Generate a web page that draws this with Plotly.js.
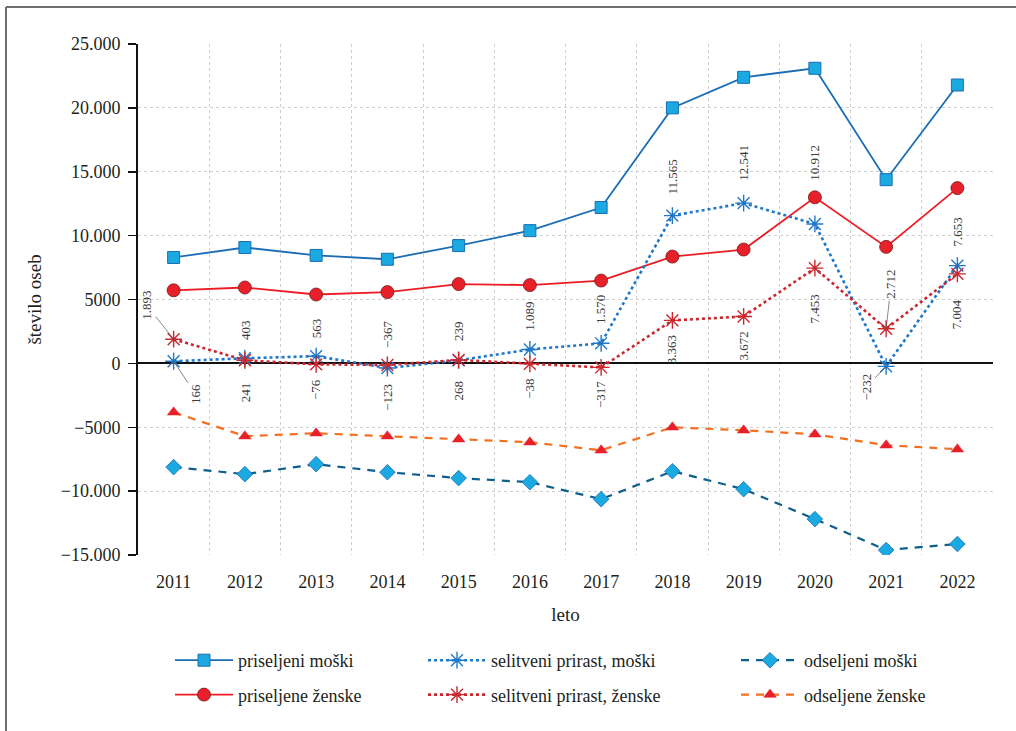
<!DOCTYPE html>
<html>
<head>
<meta charset="utf-8">
<script src="https://cdn.plot.ly/plotly-3.0.1.min.js"></script>
<style>
  html, body { margin: 0; padding: 0; background: #fff; }
  #chart { width: 1016px; height: 731px; }
</style>
</head>
<body>
<div id="chart"></div>
<script>
// ---- data ----
const years = [2011, 2012, 2013, 2014, 2015, 2016, 2017, 2018, 2019, 2020, 2021, 2022];
const priseljeniMoski   = [8290, 9070, 8450, 8150, 9220, 10390, 12200, 20000, 22390, 23100, 14380, 21790];
const priseljeneZenske  = [5720, 5940, 5390, 5580, 6210, 6130, 6480, 8360, 8910, 13000, 9120, 13720];
const selitveniMoski    = [166, 403, 563, -367, 239, 1089, 1570, 11565, 12541, 10912, -232, 7653];
const selitveniZenske   = [1893, 241, -76, -123, 268, -38, -317, 3363, 3672, 7453, 2712, 7004];
const odseljeniMoski    = [-8120, -8670, -7890, -8520, -8980, -9300, -10630, -8440, -9850, -12190, -14610, -14140];
const odseljeneZenske   = [-3830, -5700, -5470, -5700, -5940, -6170, -6800, -5000, -5240, -5550, -6410, -6720];
const yTickVals  = [-15000, -10000, -5000, 0, 5000, 10000, 15000, 20000, 25000];
const yTickText  = ['−15.000', '−10.000', '−5000', '0', '5000', '10.000', '15.000', '20.000', '25.000'];

// ---- label placement (pixel offsets, not data) ----
// positive: label above point, negative: below; null: leader line
const menShift   = [null, 16, 16, 18, 17, 17, 17, 19, 20, 41, null, 17];
const womenShift = [null, -20, -13, -17, -19, -13, -12, -13, -13, -24, null, -23];
const menLeader   = {0: [22, 33], 10: [-20, 21]};
const womenLeader = {0: [-27, -34], 10: [5, -44]};

function fmt(v) {
  const a = Math.abs(v);
  let s = a >= 1000 ? Math.floor(a / 1000) + '.' + String(a % 1000).padStart(3, '0') : String(a);
  return (v < 0 ? '−' : '') + s;
}

const serif = '"Liberation Serif", "DejaVu Serif", serif';
const txt = '#231f20';

const traces = [
  {name: 'priseljeni moški', y: priseljeniMoski, legend: 'legend',
   mode: 'lines+markers', line: {color: '#1b6db4', width: 1.8},
   marker: {symbol: 'square', size: 12, color: '#1aa9e0', line: {color: '#1b6db4', width: 1}}},
  {name: 'priseljene ženske', y: priseljeneZenske, legend: 'legend',
   mode: 'lines+markers', line: {color: '#ec1c24', width: 1.8},
   marker: {symbol: 'circle', size: 13, color: '#e8202a', line: {color: '#7a1a1a', width: 0.8}}},
  {name: 'selitveni prirast, moški', y: selitveniMoski, legend: 'legend2',
   mode: 'lines+markers', line: {color: '#1e78c8', width: 2.6, dash: 'dot'},
   marker: {symbol: 'asterisk-open', size: 14, color: '#1e78c8', line: {color: '#1e78c8', width: 1.4}}},
  {name: 'selitveni prirast, ženske', y: selitveniZenske, legend: 'legend2',
   mode: 'lines+markers', line: {color: '#c8282e', width: 2.6, dash: 'dot'},
   marker: {symbol: 'asterisk-open', size: 14, color: '#c8282e', line: {color: '#c8282e', width: 1.4}}},
  {name: 'odseljeni moški', y: odseljeniMoski, legend: 'legend3',
   mode: 'lines+markers', line: {color: '#0f5f8c', width: 2.2, dash: '8px,7px'},
   marker: {symbol: 'diamond', size: 12, color: '#1aa9e0', line: {color: '#1b6db4', width: 0.8}}},
  {name: 'odseljene ženske', y: odseljeneZenske, legend: 'legend3',
   mode: 'lines+markers', line: {color: '#f37021', width: 2.2, dash: '8px,7px'},
   marker: {symbol: 'triangle-up', size: 11, color: '#e8202a', line: {color: '#e8202a', width: 0.5}}}
].map((t, i) => Object.assign({type: 'scatter', x: years, legendgroup: 'g' + i, hoverinfo: 'x+y'}, t));

// annotations
const annotations = [];
function addLabels(vals, shifts, leaders) {
  vals.forEach((v, i) => {
    const base = {x: years[i], y: v, xref: 'x', yref: 'y', text: fmt(v), textangle: -90,
                  font: {family: serif, size: 13, color: '#3a3a3a'}};
    if (leaders[i]) {
      annotations.push(Object.assign(base, {showarrow: true, arrowhead: 0, arrowwidth: 0.7,
        arrowcolor: '#555', ax: leaders[i][0], ay: leaders[i][1], standoff: 0}));
    } else {
      const s = shifts[i];
      annotations.push(Object.assign(base, {showarrow: false, xanchor: 'center',
        yanchor: s > 0 ? 'bottom' : 'top', yshift: s}));
    }
  });
}
addLabels(selitveniMoski, menShift, menLeader);
addLabels(selitveniZenske, womenShift, womenLeader);

// plot area in px: left 138, right 993, top 44, bottom 555
const W = 1016, H = 731, L = 138, R = 993, T = 44, B = 555;
const px = v => (v - L) / (R - L);
const py = v => (B - v) / (B - T);

const legendCommon = {orientation: 'v', yanchor: 'top', xanchor: 'left', bgcolor: 'rgba(0,0,0,0)',
  font: {family: serif, size: 18, color: txt}, tracegroupgap: 8, itemwidth: 58, traceorder: 'grouped'};

const layout = {
  width: W, height: H,
  margin: {l: L, r: W - R, t: T, b: H - B},
  paper_bgcolor: '#fff', plot_bgcolor: '#fff',
  font: {family: serif, color: txt, size: 18},
  showlegend: true,
  legend:  Object.assign({}, legendCommon, {x: px(170), y: py(642)}),
  legend2: Object.assign({}, legendCommon, {x: px(423), y: py(642)}),
  legend3: Object.assign({}, legendCommon, {x: px(736), y: py(642)}),
  xaxis: {
    range: [2010.5, 2022.5], tickvals: years, ticktext: years.map(String),
    showgrid: false, zeroline: false, showline: false, ticks: '',
    ticklabelstandoff: 14,
    tickfont: {family: serif, size: 18, color: txt},
    minor: {tickvals: years.map(y => y + 0.5), showgrid: true, gridcolor: '#cfcfcf', griddash: 'dot', gridwidth: 1, ticks: ''},
    title: {text: 'leto', font: {family: serif, size: 19, color: txt}, standoff: 16}
  },
  yaxis: {
    range: [-15000, 25000], tickvals: yTickVals, ticktext: yTickText,
    showgrid: true, gridcolor: '#cfcfcf', griddash: 'dot', gridwidth: 1,
    zeroline: true, zerolinecolor: '#111', zerolinewidth: 2,
    showline: true, linecolor: '#111', linewidth: 2,
    ticks: 'outside', ticklen: 8, tickwidth: 1.5, tickcolor: '#111',
    ticklabelstandoff: 4,
    tickfont: {family: serif, size: 18, color: txt},
    title: {text: 'število oseb', font: {family: serif, size: 19, color: txt}, standoff: 14}
  },
  annotations: annotations,
  shapes: [
    {type: 'line', xref: 'paper', yref: 'paper', x0: px(6), x1: px(1016), y0: py(7), y1: py(7), line: {color: '#6e6e6e', width: 2}},
    {type: 'line', xref: 'paper', yref: 'paper', x0: px(6), x1: px(6), y0: py(7), y1: py(731), line: {color: '#6e6e6e', width: 2}}
  ]
};

Plotly.newPlot('chart', traces, layout, {displayModeBar: false, staticPlot: true});
</script>
</body>
</html>
